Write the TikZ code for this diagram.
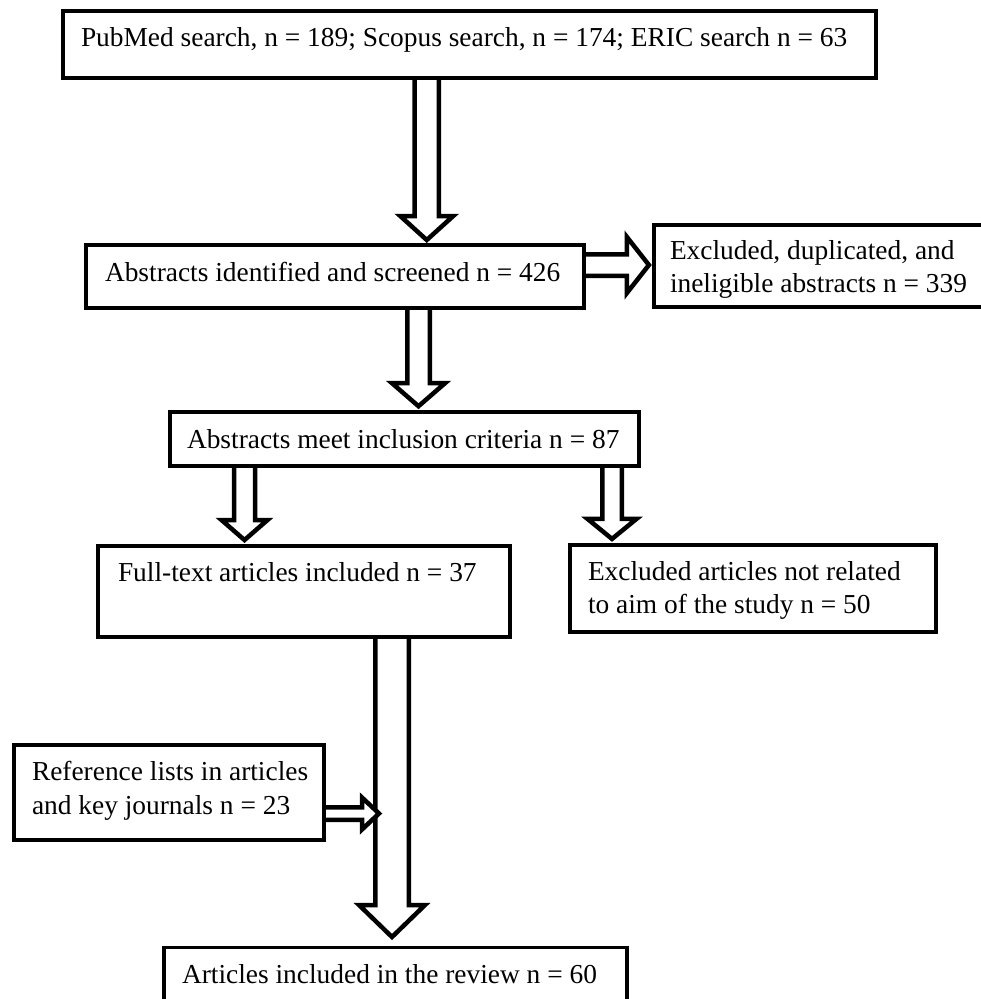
\documentclass[tikz,border=0pt]{standalone}
\usepackage{fontspec}
\setmainfont{Liberation Serif}
\usetikzlibrary{calc,backgrounds}
\tikzset{
  box/.style={draw, line width=3.8pt, fill=white, rectangle, inner sep=0pt, outer sep=0pt},
  txt/.style={anchor=base west, inner sep=0pt, outer sep=0pt, font=\fontsize{27.4}{33}\selectfont},
  blk/.style={draw, line width=4.5pt, fill=white, line join=miter, miter limit=10},
}
% vertical block arrow: #1 x, #2 from node, #3 to node, #4 half shaft, #5 half head, #6 head length, #7 gap
\newcommand{\vblock}[7]{%
  \draw[blk] let \p1=(#2.south), \p2=(#3.north) in
    ({#1pt-#4pt},\y1) -- ({#1pt-#4pt},{\y2+#7pt+#6pt}) -- ({#1pt-#5pt},{\y2+#7pt+#6pt})
    -- ({#1pt},{\y2+#7pt}) -- ({#1pt+#5pt},{\y2+#7pt+#6pt}) -- ({#1pt+#4pt},{\y2+#7pt+#6pt})
    -- ({#1pt+#4pt},\y1);}
% horizontal block arrow: #1 y, #2 from node, #3 to point, #4 half shaft, #5 half head, #6 head length, #7 gap
\newcommand{\hblock}[7]{%
  \draw[blk] let \p1=(#2.east), \p2=(#3) in
    (\x1,{-#1pt+#4pt}) -- ({\x2-#7pt-#6pt},{-#1pt+#4pt}) -- ({\x2-#7pt-#6pt},{-#1pt+#5pt})
    -- ({\x2-#7pt},{-#1pt}) -- ({\x2-#7pt-#6pt},{-#1pt-#5pt}) -- ({\x2-#7pt-#6pt},{-#1pt-#4pt})
    -- (\x1,{-#1pt-#4pt});}
\begin{document}
\begin{tikzpicture}[x=1pt,y=-1pt]
\useasboundingbox (0,0) rectangle (981,999);
\clip (0,0) rectangle (981,999);
% boxes
\node[box, minimum width=813.2pt, minimum height=66.7pt] (top) at (469.5,44.35) {};
\node[box, minimum width=498pt, minimum height=63pt] (b2) at (335,276.5) {};
\node[box, minimum width=346.1pt, minimum height=82.2pt] (b3) at (826.95,266) {};
\node[box, minimum width=468.8pt, minimum height=54.3pt] (b4) at (404.7,438.85) {};
\node[box, minimum width=411.8pt, minimum height=91pt] (b5) at (304.2,591.5) {};
\node[box, minimum width=366.2pt, minimum height=87.2pt] (b6) at (753,588.5) {};
\node[box, minimum width=310.2pt, minimum height=95.2pt] (ref) at (169,792.5) {};
\node[box, minimum width=463.2pt, minimum height=72.5pt] (bot) at (395.5,983.75) {};
% texts
\node[txt] (ttop) at (81,46) {PubMed search, n = 189; Scopus search, n = 174; ERIC search n = 63};
\node[txt] (tb2) at (105,281.5) {Abstracts identified and screened n = 426};
\node[txt] (tb3a) at (670,259) {Excluded, duplicated, and};
\node[txt] (tb3b) at (670,292) {ineligible abstracts n = 339};
\node[txt] (tb4) at (187,448) {Abstracts meet inclusion criteria n = 87};
\node[txt] (tb5) at (118,581.7) {Full-text articles included n = 37};
\node[txt] (tb6a) at (588,580) {Excluded articles not related};
\node[txt] (tb6b) at (588,613) {to aim of the study n = 50};
\node[txt] (tref1) at (32,780) {Reference lists in articles};
\node[txt] (tref2) at (32,814) {and key journals n = 23};
\node[txt] (tbot) at (182,983) {Articles included in the review n = 60};
\coordinate (join) at (379,813.5);
% block arrows behind the boxes
\begin{pgfonlayer}{background}
  \fill[white] (0,0) rectangle (981,999);
  \vblock{426.75}{top}{b2}{12.2}{26.5}{24}{5}
  \vblock{418.5}{b2}{b4}{11.25}{26.5}{23}{5.5}
  \vblock{244.5}{b4}{b5}{10.5}{23}{20}{6}
  \vblock{612}{b4}{b6}{9.75}{24.5}{20}{6}
  \vblock{392}{b5}{bot}{16.75}{33}{32}{10.5}
  \hblock{265}{b2}{b3.west}{10.75}{28}{22}{5}
  \hblock{813.5}{ref}{join}{6.25}{16}{17}{0}
\end{pgfonlayer}
\end{tikzpicture}
\end{document}
